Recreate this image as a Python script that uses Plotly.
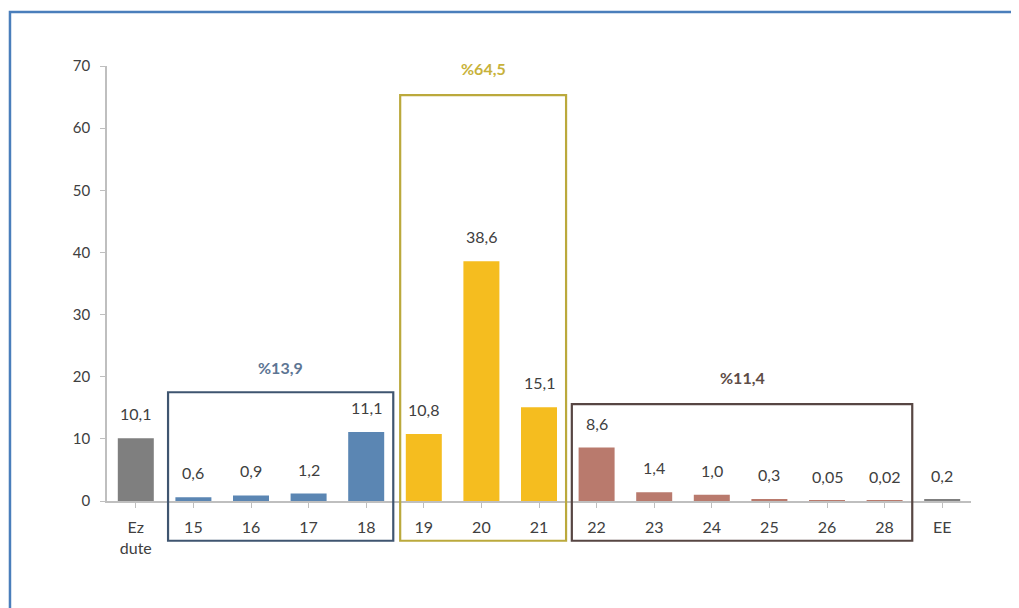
import plotly.graph_objects as go

categories = ["Ez<br>dute", "15", "16", "17", "18", "19", "20", "21", "22", "23", "24", "25", "26", "28", "EE"]
values = [10.1, 0.6, 0.9, 1.2, 11.1, 10.8, 38.6, 15.1, 8.6, 1.4, 1.0, 0.3, 0.05, 0.02, 0.2]
value_labels = ["10,1", "0,6", "0,9", "1,2", "11,1", "10,8", "38,6", "15,1", "8,6", "1,4", "1,0", "0,3", "0,05", "0,02", "0,2"]
bar_colors = ["#7f7f7f"] + ["#5b86b3"] * 4 + ["#f5bd1f"] * 3 + ["#b97a6d"] * 6 + ["#7f7f7f"]
y_ticks = [0, 10, 20, 30, 40, 50, 60, 70]

# group boxes: (x0, x1, y0, y1 in data units), outline colour, label, label colour, label y
groups = [
    (0.56, 4.47, -6.4, 17.5, "#3f5570", "%13,9", "#5d7593", 21.5),
    (4.59, 7.47, -6.4, 65.3, "#bba93c", "%64,5", "#c8b23a", 69.6),
    (7.57, 13.48, -6.4, 15.6, "#574643", "%11,4", "#5e4c46", 19.9),
]

N = len(categories)
YMAX = 70

fig = go.Figure()
fig.add_trace(go.Bar(
    x=list(range(N)), y=values, marker=dict(color=bar_colors, line=dict(width=0)),
    hoverinfo="skip", showlegend=False,
))

for i, (v, t) in enumerate(zip(values, value_labels)):
    fig.add_annotation(x=i, y=v, text=t, showarrow=False, yanchor="bottom", yshift=13,
                       font=dict(size=16, color="#404040"))

def px(xd):
    return (xd + 0.5) / N

def py(yd):
    return yd / YMAX

for x0, x1, y0, y1, lc, lab, labc, ly in groups:
    fig.add_shape(type="rect", xref="paper", yref="paper",
                  x0=px(x0), x1=px(x1), y0=py(y0), y1=py(y1),
                  line=dict(color=lc, width=2.2), fillcolor="rgba(0,0,0,0)")
    fig.add_annotation(x=(x0 + x1) / 2, y=ly, text="<b>" + lab + "</b>", showarrow=False,
                       font=dict(size=16, color=labc))

# outer frame
fig.add_shape(type="rect", xref="paper", yref="paper",
              x0=-0.1123, x1=1.3, y0=-0.5, y1=1.124,
              line=dict(color="#4a7ebb", width=2.5))

fig.update_layout(
    width=1019, height=608,
    margin=dict(l=99, r=56, t=58, b=115),
    paper_bgcolor="white", plot_bgcolor="white",
    font=dict(family="Lato, Carlito, sans-serif", size=15, color="#404040"),
    bargap=0.375,
    xaxis=dict(
        range=[-0.5, N - 0.5], tickmode="array", tickvals=list(range(N)), ticktext=categories,
        showline=True, linecolor="#bfbfbf", linewidth=1.5, ticks="outside", ticklen=5,
        tickcolor="#bfbfbf", showgrid=False, zeroline=False, tickfont=dict(size=16, color="#404040"),
        ticklabelstandoff=6,
    ),
    yaxis=dict(
        range=[0, YMAX], tickmode="array", tickvals=y_ticks, ticktext=[str(t) for t in y_ticks],
        showline=True, linecolor="#bfbfbf", linewidth=1.5, ticks="outside", ticklen=5,
        tickcolor="#bfbfbf", showgrid=False, zeroline=False, tickfont=dict(size=15, color="#404040"),
        ticklabelstandoff=7,
    ),
)
fig.update_xaxes(tickson="boundaries")

fig.write_html("out.html")
